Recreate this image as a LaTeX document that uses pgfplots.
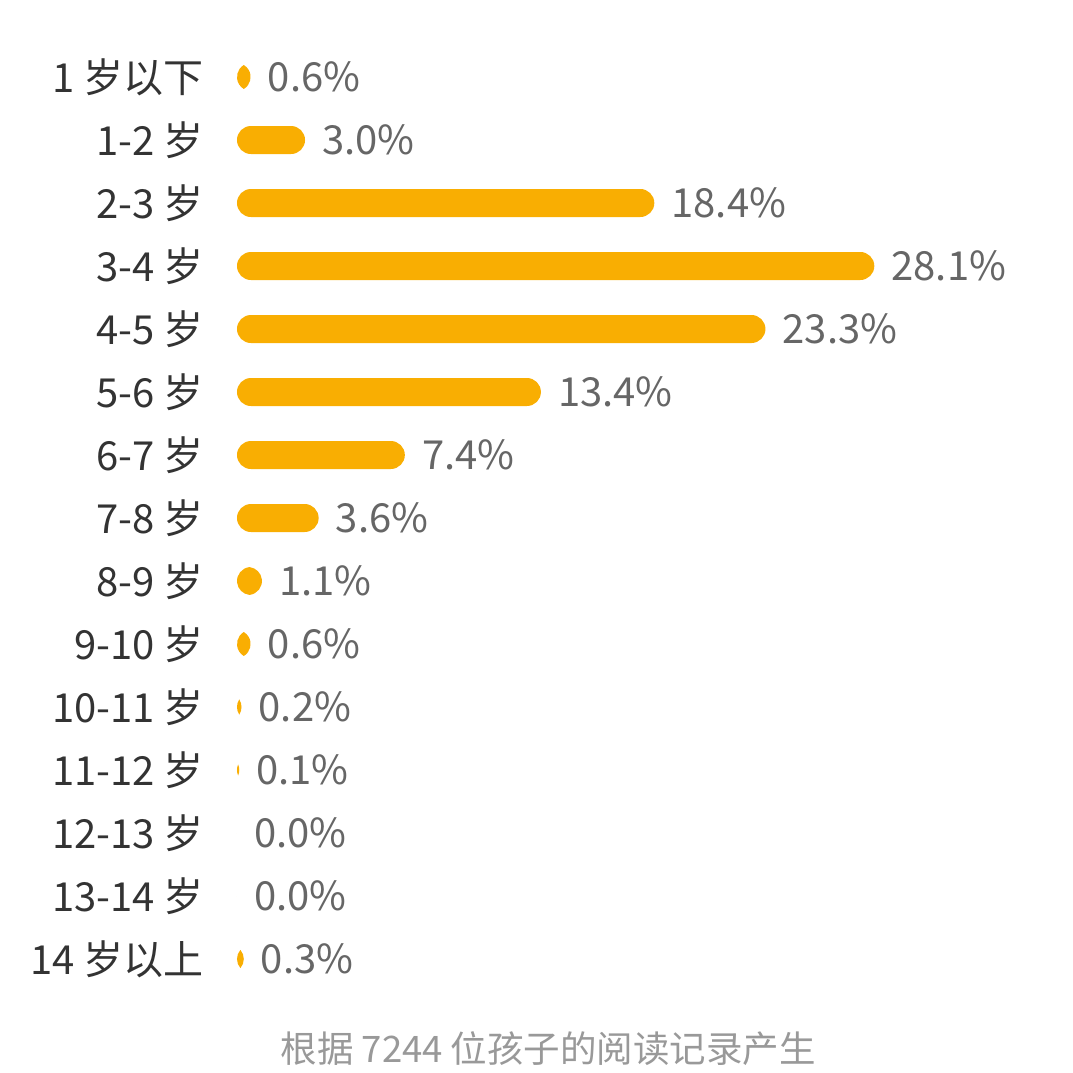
\documentclass[border=0pt]{standalone}
\usepackage{fontspec}
\setmainfont{Noto Sans CJK SC}
\usepackage{pgfplots}
\pgfplotsset{compat=1.18}

\definecolor{barorange}{HTML}{F9AE02}
\definecolor{labeldark}{HTML}{333333}
\definecolor{valuegray}{HTML}{666666}
\definecolor{notegray}{HTML}{999999}

\newcommand{\jg}{\hspace{0.22em}}
\def\xunit{0.836}   % pt per 1/1000 of the meta range (836pt / 1000)

% bar ending at the current origin, #1 = length, #2 = half thickness (pt numbers)
% fully rounded ends; lens shape when the bar is shorter than it is thick
\makeatletter
\newcommand{\roundbar}[2]{%
  \pgfmathsetmacro\rb@w{#1}%
  \pgfmathsetmacro\rb@r{#2}%
  \pgfmathparse{\rb@w>=2*\rb@r ? 1 : 0}%
  \ifnum\pgfmathresult=1
    \pgfpathmoveto{\pgfpoint{-\rb@r pt}{\rb@r pt}}%
    \pgfpathlineto{\pgfpoint{-\rb@w pt+\rb@r pt}{\rb@r pt}}%
    \pgfpatharc{90}{270}{\rb@r pt}%
    \pgfpathlineto{\pgfpoint{-\rb@r pt}{-\rb@r pt}}%
    \pgfpatharc{-90}{90}{\rb@r pt}%
    \pgfpathclose
    \pgfusepath{fill}%
  \else
    \pgfmathsetmacro\rb@d{\rb@r-\rb@w/2}%
    \pgfmathsetmacro\rb@hh{sqrt(max(\rb@r*\rb@r-\rb@d*\rb@d,0))}%
    \pgfmathparse{\rb@hh>0.05 ? 1 : 0}%
    \ifnum\pgfmathresult=1
      \pgfmathsetmacro\rb@al{atan2(\rb@hh,-\rb@d)}%
      \pgfpathmoveto{\pgfpoint{-\rb@w pt/2}{\rb@hh pt}}%
      \pgfpatharc{\rb@al}{360-\rb@al}{\rb@r pt}%
      \pgfpatharc{\rb@al-180}{180-\rb@al}{\rb@r pt}%
      \pgfpathclose
      \pgfusepath{fill}%
    \fi
  \fi
}
\makeatother

\pgfplotstableread{
value row
0.6   0
3.0   1
18.4  2
28.1  3
23.3  4
13.4  5
7.4   6
3.6   7
1.1   8
0.6   9
0.2   10
0.1   11
0.0   12
0.0   13
0.3   14
}\agedata

\begin{document}
\begin{tikzpicture}
\begin{axis}[
    scale only axis,
    width=836pt, height=1073pt,
    xmin=0, xmax=36.86,
    ymin=-1.2222, ymax=15.8095,
    y dir=reverse,
    clip=false,
    axis line style={draw=none},
    tick style={draw=none},
    xtick=\empty,
    ytick={0,...,14},
    yticklabels={1\jg 岁以下, 1-2\jg 岁, 2-3\jg 岁, 3-4\jg 岁, 4-5\jg 岁, 5-6\jg 岁,
        6-7\jg 岁, 7-8\jg 岁, 8-9\jg 岁, 9-10\jg 岁, 10-11\jg 岁, 11-12\jg 岁,
        12-13\jg 岁, 13-14\jg 岁, 14\jg 岁以上},
    yticklabel style={anchor=east, inner sep=0pt, xshift=-33pt,
        font=\fontsize{40}{42}\selectfont, text=labeldark},
]
% bars: one rounded shape per point, drawn back to x = 0
\addplot[scatter, only marks, mark=*, mark size=0pt,
    mark options={draw=none, fill=none},
    point meta=x, point meta min=0, point meta max=36.86,
    scatter/@pre marker code/.code={%
        \pgfsetfillcolor{barorange}%
        \roundbar{\pgfplotspointmetatransformed*\xunit}{14}},
    scatter/@post marker code/.code={},
] table[x=value, y=row] {\agedata};
% value labels
\addplot[only marks, mark=none, point meta=x,
    nodes near coords={\pgfmathprintnumber[fixed, fixed zerofill, precision=1, assume math mode=true]{\pgfplotspointmeta}\%},
    nodes near coords style={anchor=west, inner sep=0pt, xshift=17pt,
        font=\fontsize{40}{42}\selectfont, text=valuegray},
] table[x=value, y=row] {\agedata};
\node[text=notegray, font=\fontsize{36.5}{38}\selectfont, inner sep=0pt]
    at (axis cs:13.73,15.42) {根据\jg 7244\jg 位孩子的阅读记录产生};
\end{axis}
\pgfresetboundingbox
\path[use as bounding box] (current axis.south west) ++(-237pt,0pt) rectangle (current axis.north east);
\end{tikzpicture}
\end{document}
